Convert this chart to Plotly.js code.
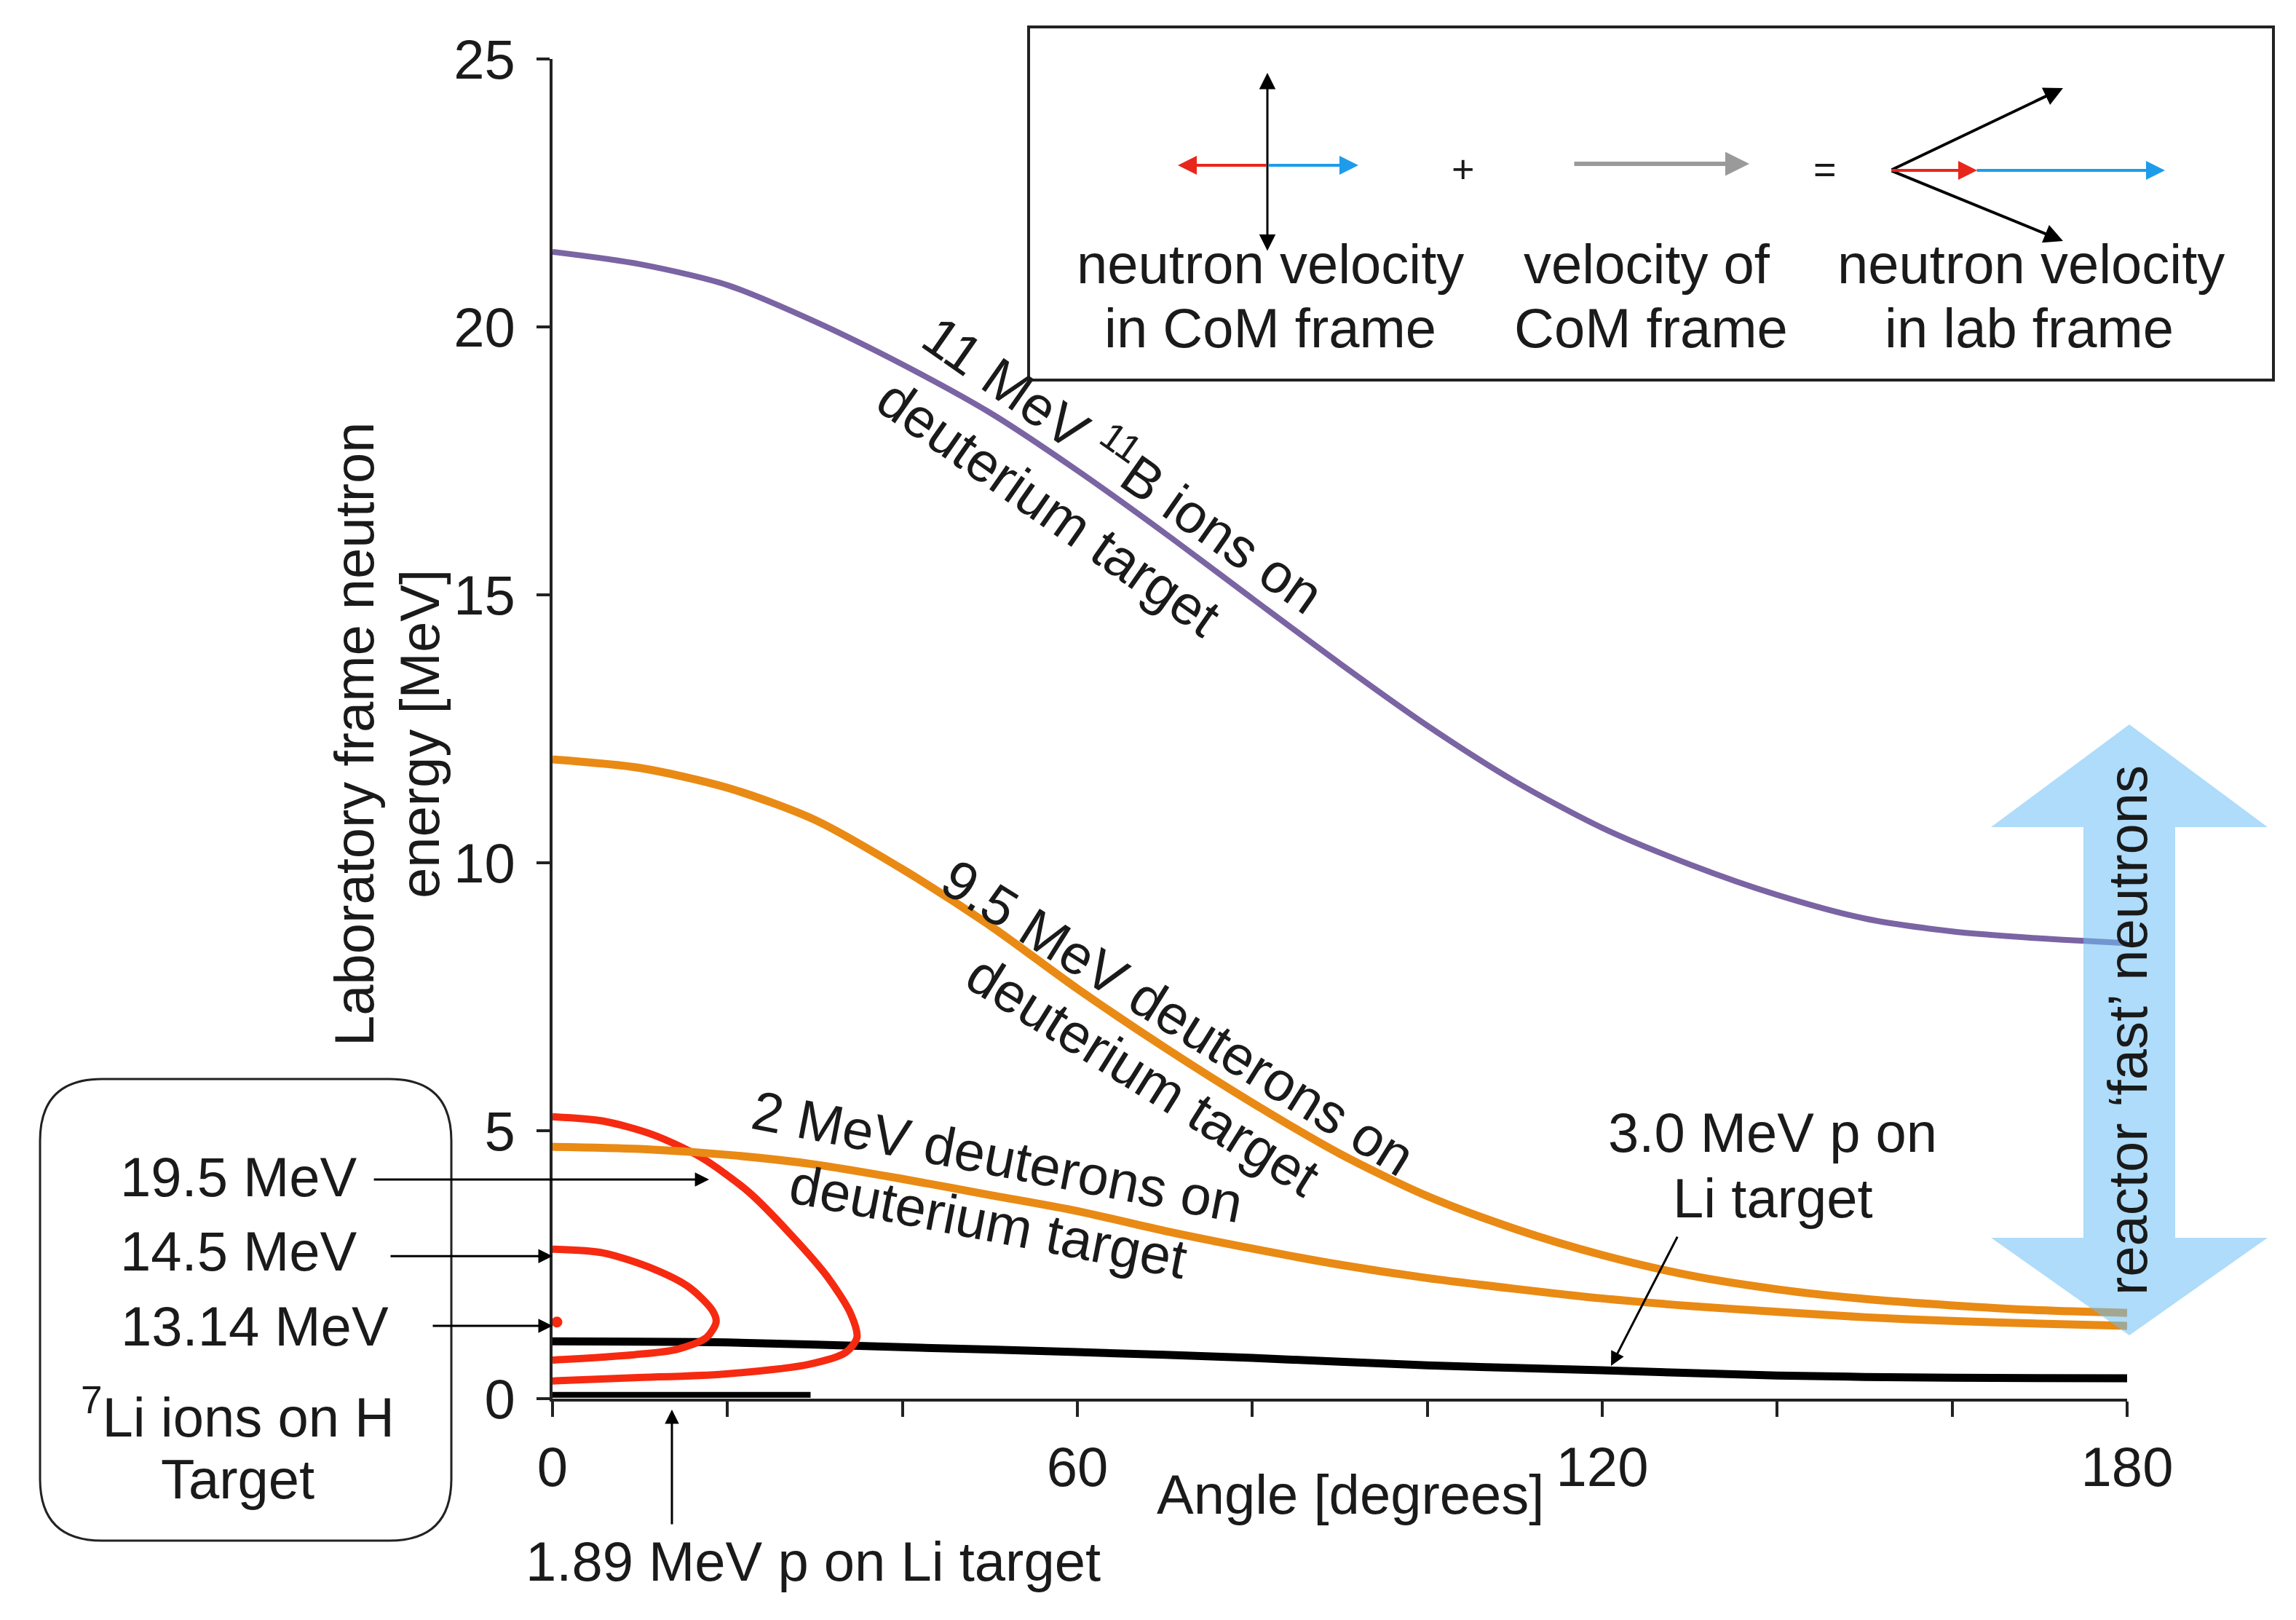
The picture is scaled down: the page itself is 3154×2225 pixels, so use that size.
<!DOCTYPE html>
<html>
<head>
<meta charset="utf-8">
<script src="https://cdn.plot.ly/plotly-3.0.1.min.js"></script>
<style>html,body{margin:0;padding:0;background:#fff;}#chart{width:3154px;height:2225px;}</style>
</head>
<body>
<div id="chart"></div>
<script>
// ---------------- data ----------------
const b11Angle  = [0, 10, 20, 30, 40, 50, 60, 70, 80, 90, 100, 110, 120, 130, 140, 150, 160, 170, 180];
const b11Energy = [21.4, 21.17, 20.78, 20.1, 19.3, 18.4, 17.32, 16.15, 14.93, 13.72, 12.56, 11.52, 10.65, 9.97, 9.4, 8.96, 8.72, 8.59, 8.5];

const d95Angle  = [0, 10, 20, 30, 40, 50, 60, 70, 80, 90, 100, 110, 120, 130, 140, 150, 160, 170, 180];
const d95Energy = [11.93, 11.77, 11.4, 10.8, 9.88, 8.83, 7.65, 6.55, 5.52, 4.57, 3.78, 3.17, 2.68, 2.3, 2.04, 1.86, 1.74, 1.65, 1.6];

const d2Angle  = [0, 10, 20, 30, 40, 50, 60, 70, 80, 90, 100, 110, 120, 130, 140, 150, 160, 170, 180];
const d2Energy = [4.70, 4.66, 4.55, 4.37, 4.1, 3.8, 3.5, 3.13, 2.8, 2.5, 2.25, 2.05, 1.87, 1.73, 1.62, 1.52, 1.45, 1.4, 1.36];

const p30Angle  = [0, 20, 40, 60, 80, 100, 120, 140, 160, 180];
const p30Energy = [1.07, 1.05, 0.96, 0.87, 0.76, 0.62, 0.53, 0.43, 0.39, 0.38];

const p189Angle  = [0, 29.5];
const p189Energy = [0.07, 0.07];

const li195Angle  = [0, 5.8, 11.4, 16.9, 22.4, 27.2, 31.4, 34.1, 34.8, 33.5, 29.3, 19.6, 9.3, 0];
const li195Energy = [5.26, 5.18, 4.93, 4.51, 3.86, 3.07, 2.28, 1.58, 1.14, 0.86, 0.64, 0.46, 0.39, 0.33];

const li145Angle  = [0, 5.8, 11.4, 15.6, 18.3, 18.7, 17.6, 14.2, 9.3, 0];
const li145Energy = [2.79, 2.72, 2.43, 2.08, 1.64, 1.43, 1.14, 0.92, 0.82, 0.72];

const li1314Angle  = [0.5];
const li1314Energy = [1.43];

const xTickVals = [0, 20, 40, 60, 80, 100, 120, 140, 160, 180];
const xTickText = ['0', '', '', '60', '', '', '120', '', '', '180'];
const yTickVals = [0, 5, 10, 15, 20, 25];
const yTickText = ['0', '5', '10', '15', '20', '25'];

// ---------------- geometry helpers ----------------
const W = 3154, H = 2225;
const PL = 759, PR = 2922, PT = 81, PB = 1921;
const px = x => (x - PL) / (PR - PL);
const py = y => (PB - y) / (PB - PT);

const FONT = 'Liberation Sans, Arial, Helvetica, sans-serif';
const FS = 76;
const TXT = '#1a1a1a';

const PURPLE = '#7a64a3', ORANGE = '#e98a14', RED = '#f62a10', BLACK = '#000000';

function line(x, y, color, width) {
  return {x: x, y: y, mode: 'lines', type: 'scatter', hoverinfo: 'skip',
          line: {color: color, width: width, shape: 'spline', smoothing: 0.8}};
}

const traces = [
  line(p189Angle, p189Energy, BLACK, 8),
  line(p30Angle, p30Energy, BLACK, 11),
  line(li195Angle, li195Energy, RED, 10),
  line(li145Angle, li145Energy, RED, 10),
  {x: li1314Angle, y: li1314Energy, mode: 'markers', type: 'scatter', cliponaxis: false,
   marker: {color: RED, size: 15, symbol: 'circle'}, hoverinfo: 'skip'},
  line(d2Angle, d2Energy, ORANGE, 11),
  line(d95Angle, d95Energy, ORANGE, 11),
  line(b11Angle, b11Energy, PURPLE, 8)
];

// text annotation in pixel coordinates
function txt(text, x, y, opts) {
  return Object.assign({text: text, x: px(x), y: py(y), xref: 'paper', yref: 'paper',
    xanchor: 'center', yanchor: 'middle', showarrow: false,
    font: {family: FONT, size: FS, color: TXT}}, opts || {});
}
// arrow-only annotation in pixel coordinates (tip, tail)
function arr(tipX, tipY, tailX, tailY, color, width, both, size) {
  return {text: '', x: px(tipX), y: py(tipY), xref: 'paper', yref: 'paper',
    ax: tailX - tipX, ay: tailY - tipY, showarrow: true, arrowcolor: color,
    arrowwidth: width, arrowhead: 2, startarrowhead: 2, arrowsize: size || 1.4, startarrowsize: size || 1.4,
    arrowside: both ? 'end+start' : 'end', standoff: 0, startstandoff: 0};
}
// arrow pointing at a data position (tip in data coords, tail as pixel offset)
function darr(tipA, tipE, dx, dy, width) {
  return {text: '', x: tipA, y: tipE, xref: 'x', yref: 'y', ax: dx, ay: dy,
    showarrow: true, arrowcolor: '#000', arrowwidth: width, arrowhead: 2, arrowsize: 1.3, standoff: 0};
}

const annotations = [
  // axis titles
  txt('Laboratory frame neutron', 486, 1008, {textangle: -90}),
  txt('energy [MeV]', 576, 1008, {textangle: -90}),
  txt('Angle [degrees]', 1855, 2052),

  // curve labels
  txt('11 MeV <sup>11</sup>B ions on', 1546, 634, {textangle: 35}),
  txt('deuterium target', 1440, 697, {textangle: 35}),
  txt('9.5 MeV deuterons on', 1619, 1397, {textangle: 32}),
  txt('deuterium target', 1570, 1476, {textangle: 32}),
  txt('2 MeV deuterons on', 1370, 1588, {textangle: 11}),
  txt('deuterium target', 1357, 1677, {textangle: 11}),
  txt('3.0 MeV p on', 2435, 1555),
  txt('Li target', 2435, 1645),
  txt('1.89 MeV p on Li target', 1117, 2144),
  txt('reactor \u2018fast\u2019 neutrons', 2922, 1415, {textangle: -90}),

  // left rounded box
  txt('19.5 MeV', 328, 1616),
  txt('14.5 MeV', 328, 1718),
  txt('13.14 MeV', 350, 1821),
  txt('<sup>7</sup>Li ions on H', 326, 1941),
  txt('Target', 326, 2032),

  // top-right explanation box
  txt('neutron velocity', 1745, 363),
  txt('in CoM frame', 1745, 450),
  txt('velocity of', 2262, 363),
  txt('CoM frame', 2268, 450),
  txt('neutron velocity', 2790, 363),
  txt('in lab frame', 2787, 450),
  txt('+', 2010, 232, {font: {family: FONT, size: 54, color: TXT}}),
  txt('=', 2507, 232, {font: {family: FONT, size: 54, color: TXT}}),

  // arrows inside explanation box
  arr(1741, 100, 1741, 346, '#000', 3, true, 1.5),
  arr(1618, 227, 1741, 227, '#e8261b', 4, false, 1.3),
  arr(1866, 227, 1741, 227, '#1e9ce9', 4, false, 1.3),
  arr(2403, 225, 2161, 225, '#9a9a9a', 6, false, 1.1),
  arr(2834, 121, 2597, 234, '#000', 4, false, 1.3),
  arr(2834, 331, 2597, 234, '#000', 4, false, 1.3),
  arr(2974, 234, 2714, 234, '#1e9ce9', 4, false, 1.3),
  arr(2716, 234, 2597, 234, '#e8261b', 4, false, 1.3),

  // arrows from labels to curves
  darr(17.9, 4.09, 512 - 974, 0, 3),
  darr(0, 2.66, 535 - 759, 0, 3),
  darr(0, 1.36, 593 - 759, 0, 3),
  arr(923, 1936, 923, 2095, '#000', 3, false, 1.3),
  darr(121, 0.61, 2306 - 2214, 1697 - 1876, 3)
];

// rounded rectangle path (pixel coords -> paper)
function roundRect(x0, y0, x1, y1, r) {
  const P = (x, y) => px(x) + ',' + py(y);
  return 'M' + P(x0 + r, y0) + ' L' + P(x1 - r, y0) + ' Q' + P(x1, y0) + ' ' + P(x1, y0 + r) +
         ' L' + P(x1, y1 - r) + ' Q' + P(x1, y1) + ' ' + P(x1 - r, y1) +
         ' L' + P(x0 + r, y1) + ' Q' + P(x0, y1) + ' ' + P(x0, y1 - r) +
         ' L' + P(x0, y0 + r) + ' Q' + P(x0, y0) + ' ' + P(x0 + r, y0) + ' Z';
}
// vertical double arrow (pixel coords -> paper)
function dblArrow(cx, topTip, topBase, botBase, botTip, headHalf, shaftHalf) {
  const P = (x, y) => px(x) + ',' + py(y);
  return 'M' + P(cx, topTip) + ' L' + P(cx + headHalf, topBase) + ' L' + P(cx + shaftHalf, topBase) +
         ' L' + P(cx + shaftHalf, botBase) + ' L' + P(cx + headHalf, botBase) + ' L' + P(cx, botTip) +
         ' L' + P(cx - headHalf, botBase) + ' L' + P(cx - shaftHalf, botBase) + ' L' + P(cx - shaftHalf, topBase) +
         ' L' + P(cx - headHalf, topBase) + ' Z';
}

const shapes = [
  {type: 'rect', xref: 'paper', yref: 'paper', x0: px(1413), x1: px(3123), y0: py(37), y1: py(522),
   line: {color: '#222', width: 4}, fillcolor: 'rgba(0,0,0,0)', layer: 'above'},
  {type: 'path', xref: 'paper', yref: 'paper', path: roundRect(55, 1482, 620, 2116, 85),
   line: {color: '#222', width: 3}, fillcolor: 'rgba(0,0,0,0)', layer: 'above'},
  {type: 'path', xref: 'paper', yref: 'paper', path: dblArrow(2925, 995, 1136, 1700, 1834, 190, 63),
   line: {width: 0}, fillcolor: 'rgba(108,191,246,0.55)', layer: 'above'}
];

const layout = {
  width: W, height: H,
  margin: {l: PL, r: W - PR, t: PT, b: H - PB, pad: 0},
  paper_bgcolor: '#ffffff', plot_bgcolor: '#ffffff',
  showlegend: false,
  font: {family: FONT, size: FS, color: TXT},
  xaxis: {range: [0, 180], tickvals: xTickVals, ticktext: xTickText, ticks: 'outside', ticklen: 21,
          tickwidth: 4, tickcolor: '#222', showline: true, linewidth: 4, linecolor: '#222',
          showgrid: false, zeroline: false, fixedrange: true, ticklabelstandoff: 4,
          tickfont: {family: FONT, size: FS, color: TXT}},
  yaxis: {range: [0, 25], tickvals: yTickVals, ticktext: yTickText, ticks: 'outside', ticklen: 18,
          tickwidth: 4, tickcolor: '#222', showline: true, linewidth: 4, linecolor: '#222',
          showgrid: false, zeroline: false, fixedrange: true, ticklabelstandoff: 14,
          tickfont: {family: FONT, size: FS, color: TXT}},
  annotations: annotations,
  shapes: shapes
};

Plotly.newPlot('chart', traces, layout, {staticPlot: true, displayModeBar: false});
</script>
</body>
</html>
